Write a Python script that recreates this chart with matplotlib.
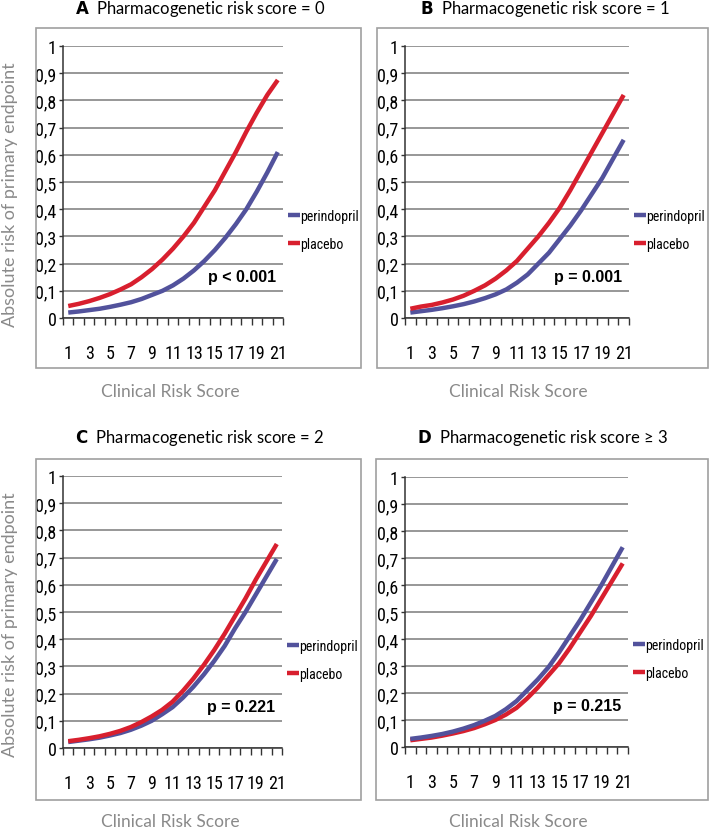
import matplotlib
matplotlib.use("Agg")
import matplotlib.pyplot as plt
from matplotlib import font_manager
from matplotlib.patches import Rectangle

# clinical risk score categories
scores = list(range(1, 22))
score_labels = [str(s) if s % 2 == 1 else "" for s in scores]
y_ticks = [i / 10 for i in range(11)]
y_tick_labels = ["0", "0,1", "0,2", "0,3", "0,4", "0,5", "0,6", "0,7", "0,8", "0,9", "1"]

panel_titles = ["Pharmacogenetic risk score = 0", "Pharmacogenetic risk score = 1",
                "Pharmacogenetic risk score = 2", "Pharmacogenetic risk score \u2265 3"]
panel_letters = ["A", "B", "C", "D"]
p_values = ["p < 0.001", "p = 0.001", "p = 0.221", "p = 0.215"]

perindopril_a = [0.02, 0.024, 0.029, 0.034, 0.041, 0.049, 0.058, 0.07, 0.085, 0.10, 0.12,
                 0.145, 0.175, 0.21, 0.25, 0.295, 0.345, 0.40, 0.465, 0.535, 0.61]
placebo_a = [0.044, 0.052, 0.062, 0.074, 0.088, 0.105, 0.124, 0.15, 0.18, 0.215, 0.255,
             0.30, 0.35, 0.41, 0.47, 0.54, 0.61, 0.685, 0.755, 0.82, 0.875]

perindopril_b = [0.02, 0.025, 0.03, 0.036, 0.043, 0.051, 0.061, 0.073, 0.087, 0.105, 0.13,
                 0.16, 0.20, 0.24, 0.29, 0.34, 0.395, 0.455, 0.515, 0.585, 0.655]
placebo_b = [0.034, 0.042, 0.048, 0.057, 0.068, 0.082, 0.10, 0.12, 0.145, 0.175, 0.21,
             0.255, 0.30, 0.35, 0.405, 0.47, 0.54, 0.61, 0.68, 0.75, 0.82]

perindopril_c = [0.022, 0.027, 0.032, 0.038, 0.046, 0.055, 0.067, 0.082, 0.10, 0.124, 0.15,
                 0.185, 0.225, 0.27, 0.32, 0.375, 0.44, 0.50, 0.565, 0.63, 0.695]
placebo_c = [0.025, 0.03, 0.036, 0.043, 0.052, 0.063, 0.077, 0.095, 0.116, 0.14, 0.17,
             0.21, 0.255, 0.305, 0.36, 0.42, 0.485, 0.55, 0.62, 0.685, 0.75]

perindopril_d = [0.03, 0.035, 0.041, 0.048, 0.057, 0.068, 0.081, 0.097, 0.115, 0.14, 0.17,
                 0.21, 0.25, 0.295, 0.35, 0.41, 0.47, 0.535, 0.60, 0.67, 0.74]
placebo_d = [0.025, 0.03, 0.035, 0.042, 0.05, 0.059, 0.07, 0.084, 0.10, 0.12, 0.145,
             0.18, 0.22, 0.265, 0.31, 0.365, 0.425, 0.485, 0.55, 0.615, 0.68]

perindopril = [perindopril_a, perindopril_b, perindopril_c, perindopril_d]
placebo = [placebo_a, placebo_b, placebo_c, placebo_d]

BLUE = "#52529c"
RED = "#d81f2e"
GRAY_TEXT = "#8a8a8a"
W, H = 709, 829

# the tick labels use a narrow face; take one if it is there
narrow_family = "Liberation Sans"
narrow_stretch = "normal"
installed = font_manager.fontManager.ttflist
for name in ["Liberation Sans Narrow", "Roboto Condensed", "Open Sans Condensed"]:
    if any(f.name == name for f in installed):
        narrow_family = name
        break
else:
    if any(f.name == "DejaVu Sans" and f.stretch in ("condensed", 700, "semi-condensed")
           for f in installed):
        narrow_family = "DejaVu Sans"
        narrow_stretch = "condensed"

tick_prop = font_manager.FontProperties(family=narrow_family, stretch=narrow_stretch, size=13)
legend_prop = font_manager.FontProperties(family=narrow_family, stretch=narrow_stretch, size=10)

title_font = ["Lato", "DejaVu Sans"]


def fx(px):
    return px / W


def fy(py):
    return 1 - py / H


fig = plt.figure(figsize=(W / 100, H / 100), dpi=100)

# pixel layout: (axes left, right, top, bottom), (box left, right, top, bottom)
axes_px = [(63, 283, 47, 319), (405, 629, 47, 319), (63, 282, 477, 749), (405, 628, 478, 748)]
box_px = [(36, 361, 29, 369), (377, 708, 29, 369), (36, 361, 460, 801), (376, 708, 460, 801)]
title_y = [9, 9, 438, 438]
title_x = [200, 545, 200, 543]
xlabel_y = [392, 392, 822, 822]
xlabel_x = [170, 518, 170, 518]

for i in range(4):
    l, r, t, b = axes_px[i]
    bl, br, bt, bb = box_px[i]
    fig.patches.append(Rectangle((fx(bl), fy(bb)), fx(br - bl), (bb - bt) / H,
                                 transform=fig.transFigure, fill=False,
                                 edgecolor="#a0a0a0", linewidth=1.2))
    ax = fig.add_axes([fx(l), fy(b), fx(r - l), (b - t) / H])
    ax.plot(scores, perindopril[i], color=BLUE, linewidth=3.2, label="perindopril",
            solid_capstyle="butt")
    ax.plot(scores, placebo[i], color=RED, linewidth=3.2, label="placebo",
            solid_capstyle="butt")
    if i == 3:
        # in panel D the blue line lies on top
        ax.lines[0].set_zorder(3)

    ax.set_xlim(0.5, 21.5)
    ax.set_ylim(0, 1)
    ax.set_yticks(y_ticks)
    ax.set_yticklabels(y_tick_labels, fontproperties=tick_prop)
    ax.set_xticks(scores)
    ax.set_xticklabels(score_labels, fontproperties=tick_prop)
    ax.set_xticks([s + 0.5 for s in range(0, 22)], minor=True)
    ax.tick_params(axis="x", which="major", length=0, pad=19)
    ax.tick_params(axis="x", which="minor", length=5, width=1, direction="out", color="#333333")
    ax.tick_params(axis="y", length=3, width=1, direction="out", pad=1.5, color="#333333")
    ax.grid(axis="y", color="#7a7a7a", linewidth=1.1)
    ax.set_axisbelow(True)
    for side in ("top", "right"):
        ax.spines[side].set_visible(False)
    for side in ("left", "bottom"):
        ax.spines[side].set_color("#333333")
        ax.spines[side].set_linewidth(1.1)

    ax.text(0.97, 0.152, p_values[i], transform=ax.transAxes, ha="right", va="center",
            fontsize=11.5, fontweight="bold", family=["Liberation Sans", "DejaVu Sans"])

    leg_y = t + 0.675 * (b - t)
    ax.legend(loc="center left", bbox_to_anchor=(fx(r + 5), fy(leg_y)),
              bbox_transform=fig.transFigure, frameon=False, handlelength=0.85,
              handletextpad=0.05, labelspacing=1.0, borderaxespad=0, borderpad=0,
              prop=legend_prop)

    fig.text(fx(title_x[i]), fy(title_y[i]),
             r"$\bf{" + panel_letters[i] + "}$  " + panel_titles[i],
             ha="center", va="center", fontsize=12, family=title_font)
    fig.text(fx(xlabel_x[i]), fy(xlabel_y[i]), "Clinical Risk Score", ha="center",
             va="center", fontsize=12.5, color=GRAY_TEXT, family=title_font)

fig.text(fx(10), fy(195), "Absolute risk of primary endpoint", rotation=90, ha="center",
         va="center", fontsize=13, color=GRAY_TEXT, family=title_font)
fig.text(fx(10), fy(625), "Absolute risk of primary endpoint", rotation=90, ha="center",
         va="center", fontsize=13, color=GRAY_TEXT, family=title_font)

fig.savefig("out.png", dpi=100)
